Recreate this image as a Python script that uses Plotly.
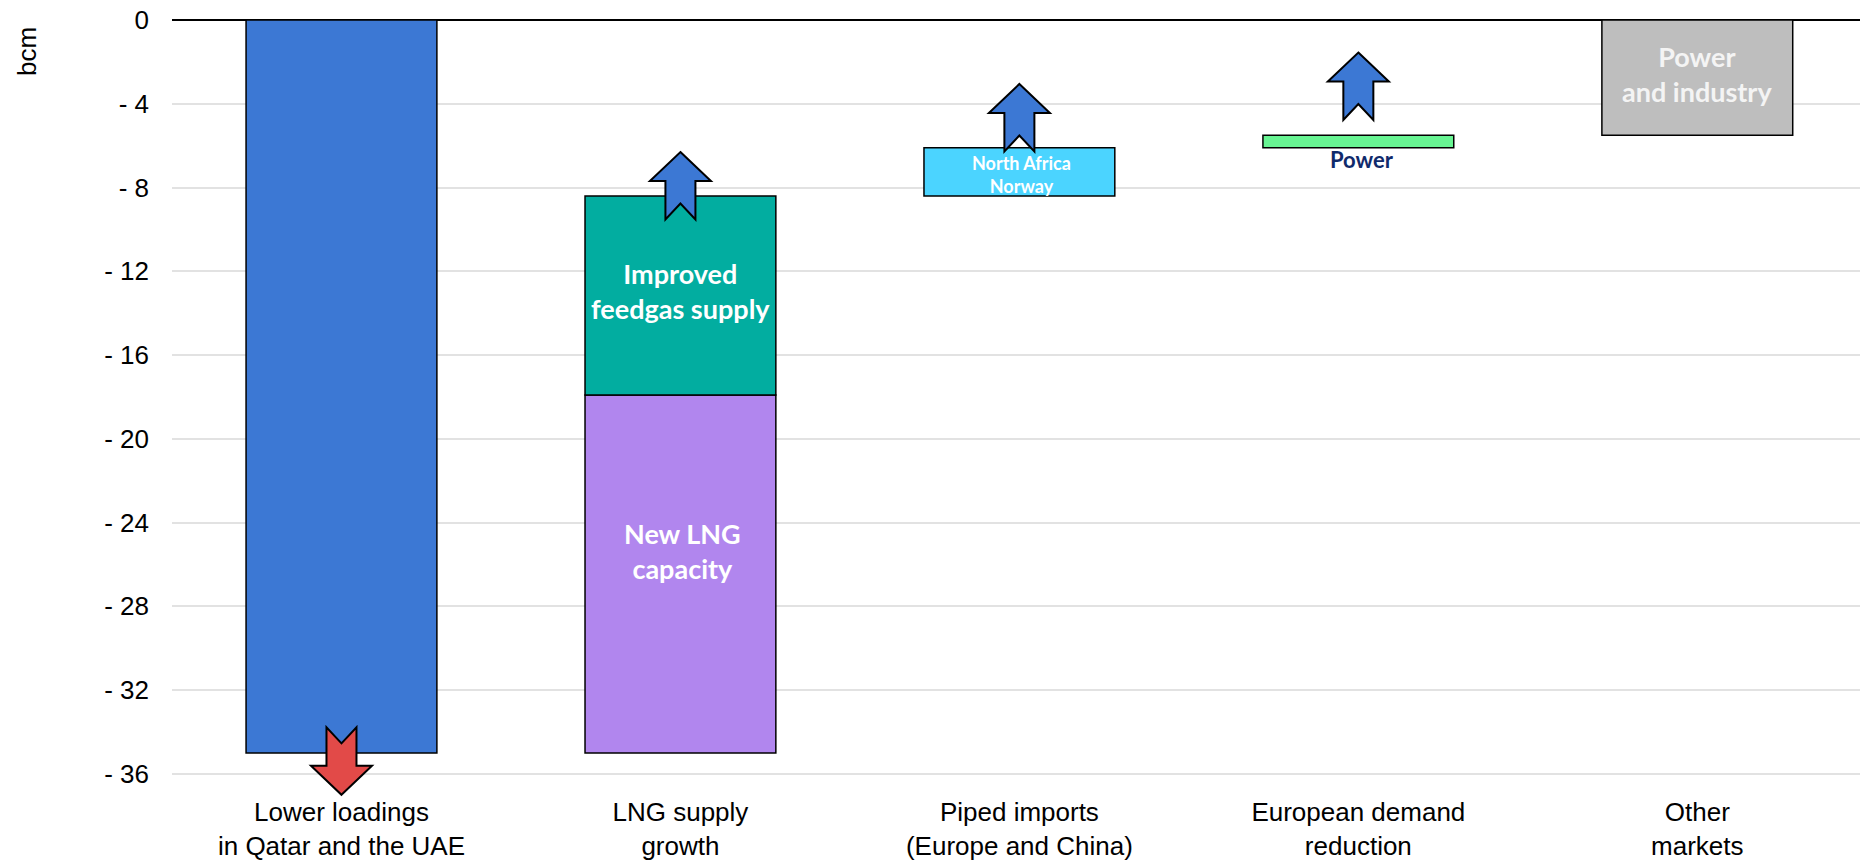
import plotly.graph_objects as go

# Category axis labels
categories = [
    "Lower loadings<br>in Qatar and the UAE",
    "LNG supply<br>growth",
    "Piped imports<br>(Europe and China)",
    "European demand<br>reduction",
    "Other<br>markets",
]

# Waterfall steps (bcm): which category each step sits on and its change
step_cat = [0, 1, 1, 2, 3, 4]
step_values = [-35.0, 17.1, 9.5, 2.3, 0.6, 5.5]
step_colors = ["#3C78D4", "#B186EE", "#02ADA0", "#4BD4FF", "#68F593", "#BEBEBE"]

# Text written on / next to each step
step_labels = [
    "",
    "New LNG<br>capacity",
    "Improved<br>feedgas supply",
    "North Africa<br>Norway",
    "Power",
    "Power<br>and industry",
]

# Y axis ticks
y_tickvals = [0, -4, -8, -12, -16, -20, -24, -28, -32, -36]
y_ticktext = ["0", "- 4", "- 8", "- 12", "- 16", "- 20", "- 24", "- 28", "- 32", "- 36"]

# Direction arrows: category, tip value (bcm), direction, colour
arrow_cat = [0, 1, 2, 3]
arrow_tip = [-37.0, -6.3, -3.05, -1.55]
arrow_dir = ["down", "up", "up", "up"]
arrow_colors = ["#E24A48", "#3C78D4", "#3C78D4", "#3C78D4"]

# running bases for the waterfall
bases = []
run = 0.0
for v in step_values:
    bases.append(run)
    run += v

BAR_W = 0.563
fig = go.Figure()
fig.add_trace(go.Bar(
    x=step_cat, y=step_values, base=bases, width=BAR_W,
    marker=dict(color=step_colors, line=dict(color="black", width=1.5)),
    hoverinfo="skip", showlegend=False,
))

# label styling per step: (font size, colour, y pixel shift, x pixel shift)
label_style = {
    1: (27, "white", 23, 2),
    2: (27, "white", 4, 0),
    3: (18, "white", -3, 2),
    4: (22, "#102A6B", -17.5, 4),
    5: (27, "#F4F4F4", 4, 0),
}
annotations = []
for i, text in enumerate(step_labels):
    if not text:
        continue
    size, color, ys, xs = label_style[i]
    mid = bases[i] + step_values[i] / 2.0
    annotations.append(dict(
        x=step_cat[i], y=mid, xref="x", yref="y", text=text, showarrow=False,
        xanchor="center", yanchor="middle", xshift=xs, yshift=ys,
        font=dict(family="Lato", size=size, color=color, weight=700),
    ))

annotations.append(dict(
    x=-0.0859, y=0.9565, xref="paper", yref="paper", text="bcm", showarrow=False,
    textangle=-90, xanchor="center", yanchor="middle",
    font=dict(family="Liberation Sans, Arial", size=26, color="black"),
))

# block arrow outline in pixels, tip at origin, pointing up
HEAD_HW, HEAD_H, SHAFT_HW, LEN, NOTCH = 30.5, 29, 15, 67.5, 51.5
up_pts = [(0, 0), (HEAD_HW, -HEAD_H), (SHAFT_HW, -HEAD_H), (SHAFT_HW, -LEN),
          (0, -NOTCH), (-SHAFT_HW, -LEN), (-SHAFT_HW, -HEAD_H), (-HEAD_HW, -HEAD_H)]
shapes = []
for c, tip, d, col in zip(arrow_cat, arrow_tip, arrow_dir, arrow_colors):
    pts = [(px, -py) for px, py in up_pts] if d == "down" else up_pts
    path = "M " + " L ".join(f"{px},{py}" for px, py in pts) + " Z"
    shapes.append(dict(
        type="path", xref="x", yref="y", xsizemode="pixel", ysizemode="pixel",
        xanchor=c, yanchor=tip, path=path,
        fillcolor=col, line=dict(color="black", width=2), layer="above",
    ))

fig.update_layout(
    width=1860, height=862,
    margin=dict(l=172, r=0, t=18, b=63, autoexpand=False),
    paper_bgcolor="white", plot_bgcolor="white",
    barmode="overlay",
    annotations=annotations, shapes=shapes,
    xaxis=dict(
        range=[-0.5, 4.48], tickmode="array", tickvals=list(range(len(categories))),
        ticktext=categories, showgrid=False, zeroline=False, showline=False,
        ticks="", ticklabelstandoff=-5,
        tickfont=dict(family="Liberation Sans, Arial", size=26, color="black"),
        fixedrange=True,
    ),
    yaxis=dict(
        range=[-37.2, 0.1], tickmode="array", tickvals=y_tickvals, ticktext=y_ticktext,
        showgrid=True, gridcolor="#E2E2E2", gridwidth=2,
        zeroline=True, zerolinecolor="black", zerolinewidth=2,
        showline=False, ticks="", ticklabelstandoff=22,
        tickfont=dict(family="Liberation Sans, Arial", size=26, color="black"),
        fixedrange=True,
    ),
)

fig.write_html("out.html", config={"displayModeBar": False})
